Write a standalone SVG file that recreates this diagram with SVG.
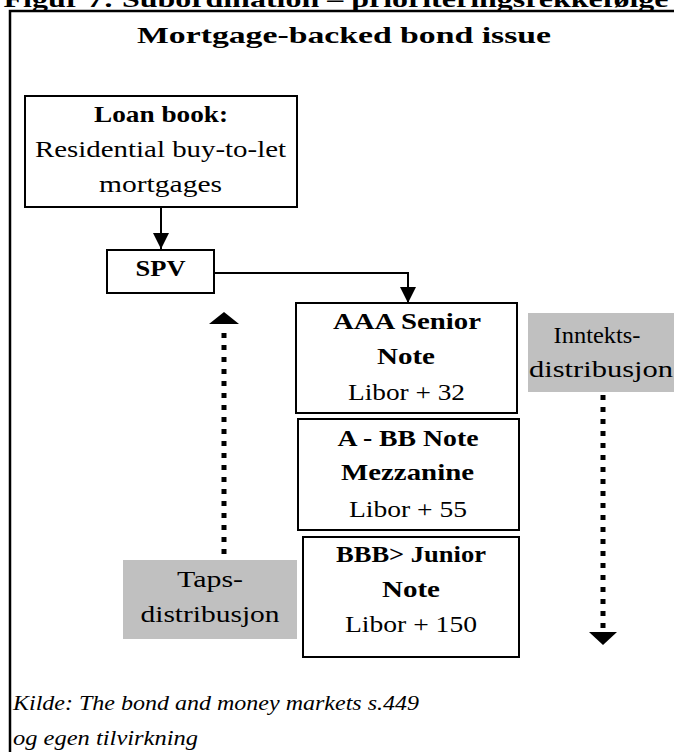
<svg xmlns="http://www.w3.org/2000/svg" width="674" height="752" viewBox="0 0 674 752">
  <defs>
    <style>
      .t { font-family: "Liberation Serif", "Times New Roman", serif; fill: #000; text-anchor: middle; font-size: 24px; }
      .b { font-weight: bold; }
      .box { fill: #fff; stroke: #000; stroke-width: 2; }
      .grey { fill: #c0c0c0; stroke: none; }
      .solid { fill: none; stroke: #000; stroke-width: 2; }
      .dots { fill: none; stroke: #000; stroke-width: 5; stroke-dasharray: 5 7; }
      .src { font-family: "Liberation Serif", "Times New Roman", serif; font-style: italic; font-size: 22px; fill: #000; }
    </style>
    <marker id="head" viewBox="0 0 16 16" refX="16" refY="8" markerWidth="16" markerHeight="16" markerUnits="userSpaceOnUse" orient="auto">
      <path d="M0,0 L16,8 L0,16 Z" fill="#000"/>
    </marker>
  </defs>

  <rect width="674" height="752" fill="#fff"/>

  <!-- figure caption, clipped at the top edge -->
  <text class="t b" x="336" y="7" font-size="27" textLength="665" lengthAdjust="spacingAndGlyphs">Figur 7: Subordination – prioriteringsrekkefølge</text>

  <!-- outer frame -->
  <rect x="10" y="11" width="700" height="800" fill="none" stroke="#000" stroke-width="2.5"/>

  <text class="t b" x="344" y="43" font-size="30" textLength="414" lengthAdjust="spacingAndGlyphs">Mortgage-backed bond issue</text>

  <!-- connectors -->
  <g id="connectors">
    <line class="solid" x1="161" y1="207" x2="161" y2="249" marker-end="url(#head)"/>
    <polyline class="solid" points="214,273 408,273 408,303" marker-end="url(#head)"/>
    <!-- loss distribution: upwards -->
    <line class="dots" x1="224" y1="554" x2="224" y2="326"/>
    <path d="M209,324 L224,312 L239,324 Z" fill="#000"/>
    <!-- income distribution: downwards -->
    <line class="dots" x1="603" y1="395" x2="603" y2="630"/>
    <path d="M589,632 L603,645 L617,632 Z" fill="#000"/>
  </g>

  <g id="loan-book">
    <rect class="box" x="25" y="96" width="272" height="111"/>
    <text class="t b" x="161" y="122" textLength="134" lengthAdjust="spacingAndGlyphs">Loan book:</text>
    <text class="t" x="160.5" y="157" textLength="251" lengthAdjust="spacingAndGlyphs">Residential buy-to-let</text>
    <text class="t" x="160.5" y="192" textLength="123" lengthAdjust="spacingAndGlyphs">mortgages</text>
  </g>

  <g id="spv">
    <rect class="box" x="107" y="250" width="107" height="43"/>
    <text class="t b" x="160.5" y="276" textLength="50" lengthAdjust="spacingAndGlyphs">SPV</text>
  </g>

  <g id="senior">
    <rect class="box" x="296" y="303" width="221" height="110"/>
    <text class="t b" x="407" y="329" textLength="148" lengthAdjust="spacingAndGlyphs">AAA Senior</text>
    <text class="t b" x="406" y="364" textLength="58" lengthAdjust="spacingAndGlyphs">Note</text>
    <text class="t" x="406.5" y="400" textLength="117" lengthAdjust="spacingAndGlyphs">Libor + 32</text>
  </g>

  <g id="mezzanine">
    <rect class="box" x="298" y="419" width="221" height="111"/>
    <text class="t b" x="408" y="446" textLength="141" lengthAdjust="spacingAndGlyphs">A - BB Note</text>
    <text class="t b" x="407.5" y="480" textLength="133" lengthAdjust="spacingAndGlyphs">Mezzanine</text>
    <text class="t" x="408" y="517" textLength="118" lengthAdjust="spacingAndGlyphs">Libor + 55</text>
  </g>

  <g id="junior">
    <rect class="box" x="303" y="537" width="216" height="120"/>
    <text class="t b" x="411" y="562" textLength="150" lengthAdjust="spacingAndGlyphs">BBB&gt; Junior</text>
    <text class="t b" x="411" y="597" textLength="58" lengthAdjust="spacingAndGlyphs">Note</text>
    <text class="t" x="411" y="632" textLength="132" lengthAdjust="spacingAndGlyphs">Libor + 150</text>
  </g>

  <g id="loss-label">
    <rect class="grey" x="123" y="560" width="174" height="79"/>
    <text class="t" x="210" y="587" textLength="66" lengthAdjust="spacingAndGlyphs">Taps-</text>
    <text class="t" x="210" y="622" textLength="139" lengthAdjust="spacingAndGlyphs">distribusjon</text>
  </g>

  <g id="income-label">
    <rect class="grey" x="528" y="313" width="146" height="79"/>
    <text class="t" x="597" y="343" textLength="87" lengthAdjust="spacingAndGlyphs">Inntekts-</text>
    <text class="t" x="601" y="377" textLength="144" lengthAdjust="spacingAndGlyphs">distribusjon</text>
  </g>

  <!-- source note -->
  <text class="src" x="13" y="710" textLength="406" lengthAdjust="spacingAndGlyphs">Kilde: The bond and money markets s.449</text>
  <text class="src" x="13" y="745" textLength="185" lengthAdjust="spacingAndGlyphs">og egen tilvirkning</text>
</svg>
